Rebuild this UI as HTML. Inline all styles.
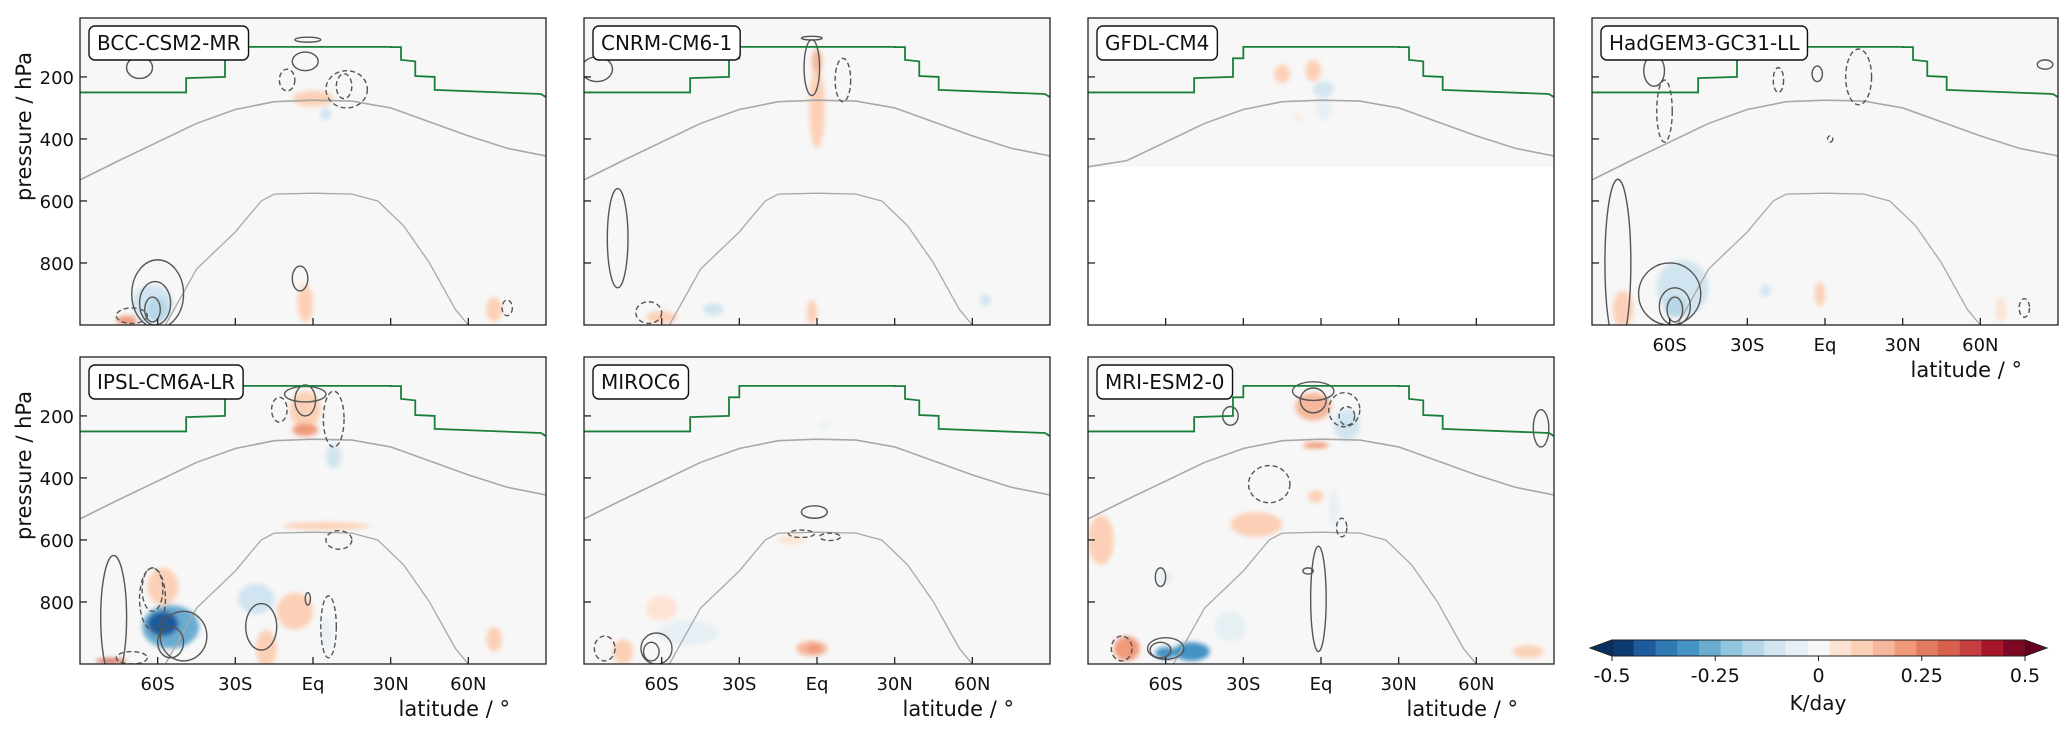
<!DOCTYPE html>
<html><head><meta charset="utf-8"><style>
body{margin:0;background:#fff;}
svg{display:block;font-family:"DejaVu Sans","Liberation Sans",sans-serif;}
</style></head><body>
<svg id="fig" width="2067" height="731" viewBox="0 0 2067 731" xmlns="http://www.w3.org/2000/svg">
<defs><filter id="soft" x="-30%" y="-30%" width="160%" height="160%"><feGaussianBlur stdDeviation="2.5"/></filter></defs>
</svg>
<script>
const NS='http://www.w3.org/2000/svg';
const svg=document.getElementById('fig');
const panelNames=['BCC-CSM2-MR','CNRM-CM6-1','GFDL-CM4','HadGEM3-GC31-LL','IPSL-CM6A-LR','MIROC6','MRI-ESM2-0'];
const latTicks=[-60,-30,0,30,60];
const latTickLabels=['60S','30S','Eq','30N','60N'];
const pTicks=[200,400,600,800];
const tropLat=[-90,-49,-49,-34,-34,-30,-30,30,30,34,34,39.5,39.5,47,47,88,90];
const tropP=[250,250,204,200,140,140,103,103,104,104,145,150,197,200,242,255,265];
const isoLat=[-90,-75,-60,-45,-30,-15,0,15,30,45,60,75,90];
const isoP=[532,470,410,350,305,280,275,278,300,345,390,430,455];
const iso2Lat=[-57,-45,-30,-20,-15,0,15,25,35,45,55,60];
const iso2P=[1000,820,700,600,578,575,578,600,680,800,950,1000];
const cbLevels=[-0.5,-0.25,0,0.25,0.5];
const cbLabels=['-0.5','-0.25','0','0.25','0.5'];
const colors=['#0b3a70','#1d5a9e','#2f79b5','#4393c3','#6aacd0','#92c5de','#b5d7e8','#d1e5f0','#e6eff4','#f7f7f7','#fde3d3','#fcd0b6','#f6b89c','#f09a7a','#e07b62','#d6604d','#c53d3e','#a8162c','#7e0824'];
// blobs: [lat, p, halfwidth deg, halfheight hPa, K/day]
const blobs=[
[[0,270,8,25,0.1],[-62,930,8,60,-0.1],[-60,950,4,40,-0.15],[-3,930,3,60,0.1],[5,320,2,20,-0.08],[70,950,3,40,0.08],[-72,985,4,15,0.2]],
[[0,300,3,130,0.1],[0,150,2,40,0.15],[-2,960,2,40,0.1],[-40,950,4,20,-0.08],[65,920,2,20,-0.08],[-60,975,6,20,0.08]],
[[-15,190,3,30,0.08],[-3,180,3,35,0.08],[1,240,4,25,-0.1],[1,300,3,40,-0.06],[-9,330,1,15,0.06]],
[[-55,880,10,90,-0.08],[-58,940,4,35,-0.15],[-78,950,4,60,0.08],[-23,890,2,20,-0.08],[-2,900,2,40,0.08],[68,950,2,40,0.06]],
[[-3,180,6,60,0.12],[-3,245,5,20,0.2],[8,330,3,40,-0.08],[-55,880,11,70,-0.25],[-58,870,6,40,-0.4],[-58,750,6,60,0.12],[-22,790,7,50,-0.12],[-7,830,7,60,0.12],[-18,950,4,60,0.08],[5,555,17,12,0.08],[70,920,3,40,0.08],[5,900,2,50,-0.06],[-78,990,6,8,0.3]],
[[-2,950,6,25,0.15],[-1,950,3,15,0.2],[-10,600,5,15,0.06],[-60,820,6,40,0.06],[-50,900,12,40,-0.06],[3,230,2,10,-0.06],[-75,960,4,40,0.08]],
[[-3,170,7,45,0.15],[-2,295,5,10,0.2],[10,230,5,50,-0.1],[5,500,2,60,-0.06],[-2,460,3,20,0.08],[-25,550,10,40,0.08],[-60,720,3,20,-0.06],[-50,960,7,30,-0.3],[-60,965,4,20,-0.3],[-75,950,5,40,0.2],[-85,600,5,80,0.08],[-35,880,6,50,-0.06],[80,960,6,20,0.08]]
];
// contours: [lat, p, halfwidth, halfheight, sign]
const contours=[
[[-60,900,10,110,1],[-61,930,6,70,1],[-62,950,3,40,1],[-5,850,3,40,1],[-67,170,5,35,1],[-3,150,5,30,1],[-10,210,3,35,-1],[12,230,3,40,-1],[13,240,8,60,-1],[-2,80,5,8,1],[75,945,2,25,-1],[-70,970,6,25,-1]],
[[-77,720,4,160,1],[-2,170,3,90,1],[10,210,3,70,-1],[-2,75,4,6,1],[-65,960,5,35,-1],[-85,175,6,40,1]],
[],
[[-80,800,5,270,1],[-60,900,12,100,1],[-58,940,6,60,1],[-58,950,3,40,1],[-62,310,3,100,-1],[-66,180,4,50,1],[13,200,5,90,-1],[-18,210,2,40,-1],[-3,190,2,25,1],[77,945,2,30,-1],[85,160,3,15,1],[2,400,1,10,-1]],
[[-3,130,8,25,1],[-3,150,4,50,1],[-50,910,9,80,1],[-55,930,5,50,1],[-20,880,6,75,1],[-62,760,4,70,-1],[-62,790,5,100,-1],[6,880,3,100,-1],[10,600,5,30,-1],[8,210,4,90,-1],[-13,180,3,40,-1],[-77,850,5,200,1],[-2,790,1,20,1],[-70,980,6,20,-1]],
[[-62,950,6,50,1],[-64,960,3,30,1],[-1,510,5,20,1],[-6,580,5,12,-1],[5,590,4,12,-1],[-82,950,4,40,-1]],
[[-3,120,8,30,1],[-3,150,5,40,1],[9,180,6,55,-1],[10,200,3,30,-1],[-60,950,7,35,1],[-62,955,4,25,1],[-20,420,8,60,-1],[-1,790,3,170,1],[8,560,2,30,-1],[-62,720,2,30,1],[-77,950,4,40,-1],[85,240,3,60,1],[-35,200,3,30,1],[-5,700,2,10,1]]
];
const lefts=[80,584,1088,1592,80,584,1088], tops=[18,18,18,18,357,357,357];
const W=466,H=307;
function mk(tag,attrs,parent){const e=document.createElementNS(NS,tag);for(const k in attrs)e.setAttribute(k,attrs[k]);(parent||svg).appendChild(e);return e;}
function colorFor(v){let i=Math.round((v+0.5)/(1/19)-0.5);i=Math.max(0,Math.min(18,i));return colors[i];}
panelNames.forEach((name,i)=>{
  const L=lefts[i],T=tops[i];
  const xS=lat=>L+(lat+90)/180*W;
  const yS=p=>T+(p-10)/990*H;
  const g=mk('g',{});
  
  
  const cp=mk('clipPath',{id:'c'+i},svg.querySelector('defs'));
  mk('rect',{x:L,y:T,width:W,height:H},cp);
  const inner=mk('g',{'clip-path':'url(#c'+i+')'},g);
  const bgH = i===2 ? yS(490)-T : H;
  const bg=mk('rect',{x:L,y:T,width:W,height:bgH,fill:'#f7f7f7'},inner);
  
  
  const bl=mk('g',{filter:'url(#soft)'},inner);
  blobs[i].forEach(b=>{
    const e=mk('ellipse',{cx:xS(b[0]),cy:yS(b[1]),rx:b[2]/180*W,ry:b[3]/990*H,fill:colorFor(b[4])},bl);
    
    
  });
  const isoPts=isoLat.map((la,k)=>xS(la)+','+yS(i===2?Math.min(isoP[k],490):isoP[k])).join(' ');
  const iso=mk('polyline',{points:isoPts,fill:'none',stroke:'#a8a8a8','stroke-width':1.6},inner);
  
  
  if(i!==2){
    const iso2=mk('polyline',{points:iso2Lat.map((la,k)=>xS(la)+','+yS(iso2P[k])).join(' '),fill:'none',stroke:'#a8a8a8','stroke-width':1.3},inner);
    
    
  }
  contours[i].forEach(c=>{
    const e=mk('ellipse',{cx:xS(c[0]),cy:yS(c[1]),rx:c[2]/180*W,ry:c[3]/990*H,fill:'none',stroke:'#555','stroke-width':1.4},inner);
    if(c[4]<0)e.setAttribute('stroke-dasharray','5,3');
    
    
  });
  const tr=mk('polyline',{points:tropLat.map((la,k)=>xS(la)+','+yS(tropP[k])).join(' '),fill:'none',stroke:'#1a7f3a','stroke-width':1.8},inner);
  
  
  const fr=mk('rect',{x:L,y:T,width:W,height:H,fill:'none',stroke:'#222','stroke-width':1.3},g);
  
  
  latTicks.forEach((la,k)=>{
    mk('line',{x1:xS(la),x2:xS(la),y1:T+H,y2:T+H-7,stroke:'#222','stroke-width':1.3},g);
    if(i>=3){
      const t=mk('text',{x:xS(la),y:T+H+26,'font-size':18,'text-anchor':'middle',fill:'#111'},g);
      t.textContent=latTickLabels[k];
      
      
    }
  });
  pTicks.forEach(p=>{
    mk('line',{x1:L,x2:L+7,y1:yS(p),y2:yS(p),stroke:'#222','stroke-width':1.3},g);
    if(i===0||i===4){
      const t=mk('text',{x:L-6,y:yS(p)+7,'font-size':18,'text-anchor':'end',fill:'#111'},g);
      t.textContent=p;
      
      
    }
  });
  if(i===0||i===4){
    const t=mk('text',{x:0,y:0,'font-size':21,'text-anchor':'middle',fill:'#111',transform:'translate(31,'+(T+H/2-45)+') rotate(-90)'},g);
    t.textContent='pressure / hPa';
    
    
  }
  if(i>=3){
    const t=mk('text',{x:L+W-36,y:T+H+52,'font-size':21,'text-anchor':'end',fill:'#111'},g);
    t.textContent='latitude / °';
    
    
  }
  const lb=mk('rect',{x:L+9,y:T+8,width:100,height:34,rx:6,fill:'#fff',stroke:'#111','stroke-width':1.4},g);
  
  
  const lt=mk('text',{x:L+17,y:T+32,'font-size':20,fill:'#111'},g);
  lt.textContent=name;
  
  
  lb.setAttribute('width',lt.getComputedTextLength()+16);
});
// colorbar
const cbL=1612,cbR=2025,cbT=640,cbB=656;
const cbX=v=>cbL+(v+0.5)*(cbR-cbL);
const cb=mk('g',{});


colors.forEach((c,k)=>{
  const r=mk('rect',{x:cbL+k*(cbR-cbL)/19,y:cbT,width:(cbR-cbL)/19+0.5,height:cbB-cbT,fill:c},cb);
  
  
});
mk('polygon',{points:`${cbL},${cbT} ${cbL-22},${(cbT+cbB)/2} ${cbL},${cbB}`,fill:'#053061',stroke:'#222','stroke-width':1},cb);
mk('polygon',{points:`${cbR},${cbT} ${cbR+22},${(cbT+cbB)/2} ${cbR},${cbB}`,fill:'#67001f',stroke:'#222','stroke-width':1},cb);
mk('rect',{x:cbL,y:cbT,width:cbR-cbL,height:cbB-cbT,fill:'none',stroke:'#222','stroke-width':1},cb);
cbLevels.forEach((v,k)=>{
  mk('line',{x1:cbX(v),x2:cbX(v),y1:cbB,y2:cbB+5,stroke:'#222'},cb);
  const t=mk('text',{x:cbX(v),y:682,'font-size':19,'text-anchor':'middle',fill:'#111'},cb);
  t.textContent=cbLabels[k];
  
  
});
const kt=mk('text',{x:1818,y:710,'font-size':20,'text-anchor':'middle',fill:'#111'},cb);
kt.textContent='K/day';


</script>
</body></html>
